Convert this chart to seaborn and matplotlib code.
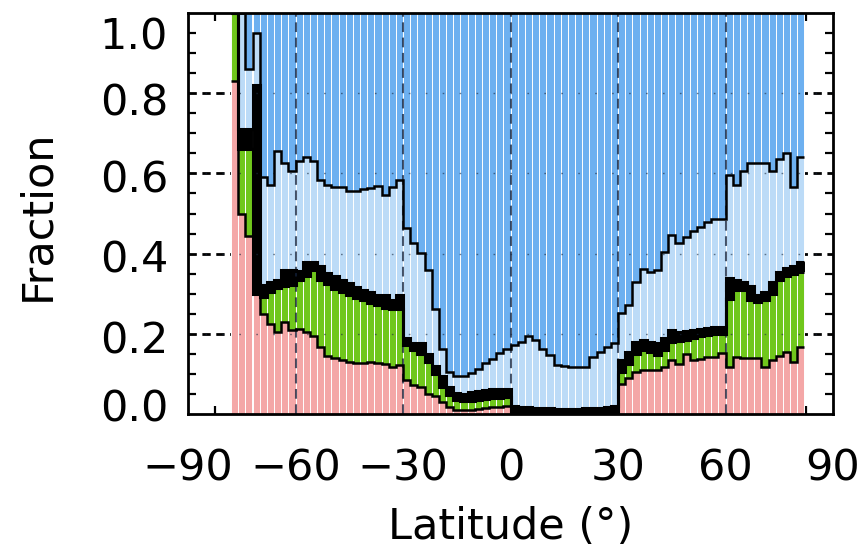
import numpy as np
import matplotlib
matplotlib.use("Agg")
import matplotlib.pyplot as plt
import matplotlib.transforms as mtransforms
import seaborn as sns

# ---------------- data (fractions) ----------------
latitude = [-77, -75, -73, -71, -69, -67, -65, -63, -61, -59,
            -57, -55, -53, -51, -49, -47, -45, -43, -41, -39,
            -37, -35, -33, -31, -29, -27, -25, -23, -21, -19,
            -17, -15, -13, -11, -9, -7, -5, -3, -1, 1,
            3, 5, 7, 9, 11, 13, 15, 17, 19, 21,
            23, 25, 27, 29, 31, 33, 35, 37, 39, 41,
            43, 45, 47, 49, 51, 53, 55, 57, 59, 61,
            63, 65, 67, 69, 71, 73, 75, 77, 79, 81]

# cumulative tops of each stacked class
pink_top = [0.83, 0.50, 0.445, 0.30, 0.25, 0.225, 0.205, 0.23, 0.21, 0.213,
            0.205, 0.195, 0.167, 0.145, 0.14, 0.135, 0.13, 0.126, 0.127, 0.13,
            0.127, 0.125, 0.117, 0.121, 0.084, 0.072, 0.068, 0.05, 0.045, 0.03,
            0.018, 0.011, 0.010, 0.010, 0.012, 0.015, 0.017, 0.018, 0.019, 0.0,
            0.0, 0.0, 0.0, 0.0, 0.0, 0.0, 0.0, 0.0, 0.0, 0.0,
            0.0, 0.0, 0.0, 0.0, 0.075, 0.09, 0.105, 0.11, 0.11, 0.11,
            0.118, 0.134, 0.125, 0.15, 0.135, 0.138, 0.142, 0.142, 0.151, 0.117,
            0.142, 0.14, 0.14, 0.14, 0.117, 0.134, 0.145, 0.155, 0.13, 0.167]

green_top = [1.0, 0.66, 0.66, 0.30, 0.292, 0.305, 0.313, 0.32, 0.321, 0.334,
             0.345, 0.359, 0.335, 0.325, 0.312, 0.305, 0.296, 0.29, 0.285, 0.278,
             0.272, 0.265, 0.262, 0.263, 0.172, 0.16, 0.15, 0.13, 0.10, 0.068,
             0.048, 0.035, 0.032, 0.033, 0.036, 0.038, 0.04, 0.041, 0.042, 0.0,
             0.0, 0.0, 0.0, 0.0, 0.0, 0.0, 0.0, 0.0, 0.0, 0.0,
             0.0, 0.0, 0.0, 0.0, 0.105, 0.125, 0.15, 0.16, 0.155, 0.146,
             0.16, 0.18, 0.183, 0.185, 0.19, 0.194, 0.197, 0.2, 0.2, 0.288,
             0.309, 0.309, 0.285, 0.28, 0.285, 0.30, 0.334, 0.345, 0.35, 0.355]

black_top = [1.0, 0.71, 0.71, 0.82, 0.322, 0.33, 0.335, 0.358, 0.36, 0.357,
             0.378, 0.38, 0.368, 0.352, 0.345, 0.335, 0.326, 0.317, 0.31, 0.305,
             0.298, 0.296, 0.285, 0.298, 0.19, 0.178, 0.176, 0.15, 0.12, 0.095,
             0.068, 0.052, 0.05, 0.055, 0.057, 0.06, 0.062, 0.063, 0.063, 0.02,
             0.018, 0.017, 0.016, 0.015, 0.014, 0.013, 0.012, 0.012, 0.013, 0.014,
             0.015, 0.016, 0.017, 0.019, 0.135, 0.155, 0.18, 0.185, 0.18, 0.177,
             0.19, 0.21, 0.205, 0.207, 0.21, 0.212, 0.215, 0.217, 0.218, 0.338,
             0.335, 0.33, 0.32, 0.298, 0.303, 0.33, 0.355, 0.363, 0.37, 0.378]

lightblue_top = [1.0, 1.0, 0.86, 0.95, 0.59, 0.57, 0.655, 0.625, 0.605, 0.63,
                 0.642, 0.63, 0.584, 0.571, 0.567, 0.567, 0.555, 0.557, 0.56, 0.563,
                 0.569, 0.546, 0.565, 0.584, 0.463, 0.426, 0.401, 0.359, 0.263, 0.163,
                 0.105, 0.094, 0.094, 0.102, 0.113, 0.126, 0.138, 0.151, 0.161, 0.172,
                 0.18, 0.194, 0.184, 0.163, 0.146, 0.121, 0.119, 0.118, 0.118, 0.117,
                 0.142, 0.155, 0.167, 0.176, 0.251, 0.271, 0.33, 0.361, 0.355, 0.359,
                 0.405, 0.447, 0.427, 0.442, 0.457, 0.467, 0.48, 0.486, 0.486, 0.596,
                 0.571, 0.607, 0.626, 0.626, 0.625, 0.605, 0.636, 0.652, 0.567, 0.642]

total_top = [1.0] * len(latitude)

xtick_values = [-90, -60, -30, 0, 30, 60, 90]
xtick_labels = ["\u221290", "\u221260", "\u221230", "0", "30", "60", "90"]
ytick_values = [0.0, 0.2, 0.4, 0.6, 0.8, 1.0]
ytick_labels = ["0.0", "0.2", "0.4", "0.6", "0.8", "1.0"]

# layout: where the y tick label texts sit (IDL nudges the end labels inward)
ytick_label_pos = [0.022, 0.193, 0.393, 0.593, 0.785, 0.951]

# ---------------- style ----------------
c_blue = "#6DB0F0"
c_lblue = "#BCDBF7"
c_black = "#000000"
c_green = "#70C71C"
c_pink = "#F4A7A7"

plt.rcParams["font.family"] = ["DejaVu Sans"]
plt.rcParams["lines.scale_dashes"] = False

fig = plt.figure(figsize=(8.64, 5.57), dpi=100)
ax = fig.add_axes([188 / 864, 1 - 414 / 557, 645 / 864, 401 / 557])

layers = [
    (total_top, c_blue, "white"),
    (lightblue_top, c_lblue, "white"),
    (black_top, c_black, c_black),
    (green_top, c_green, "white"),
    (pink_top, c_pink, "white"),
]
for vals, col, ec in layers:
    sns.barplot(x=latitude, y=vals, native_scale=True, width=1.0,
                color=col, saturation=1, edgecolor=ec, linewidth=0.7,
                errorbar=None, ax=ax, zorder=1)

# stepped boundary lines
lat_arr = np.asarray(latitude, dtype=float)
edges = np.concatenate([lat_arr - 1.0, [lat_arr[-1] + 1.0]])
ax.stairs(pink_top, edges, baseline=None, color="k", lw=1.8, zorder=4)
ax.stairs(green_top, edges, baseline=None, color="k", lw=2.2, zorder=4)
ax.stairs(black_top, edges, baseline=None, color="k", lw=2.2, zorder=4)
ax.stairs(lightblue_top, edges, baseline=None, color="k", lw=1.8, zorder=4)

# grid: horizontal dashed (behind), vertical dashed (over, faded)
ax.set_axisbelow(True)
for yv in ytick_values[1:-1]:
    ax.axhline(yv, color="k", lw=2.0, dashes=(6, 4), zorder=0.5)
    ax.axhline(yv, color="#1a2a40", lw=1.0, dashes=(1.2, 11), alpha=0.6, zorder=3)
for xv in xtick_values[1:-1]:
    ax.axvline(xv, color="#14213a", lw=1.5, dashes=(7, 4), alpha=0.75, zorder=3)

ax.set_xlim(-90, 90)
ax.set_ylim(0, 1.0)

ax.set_xticks(xtick_values)
ax.set_xticklabels(xtick_labels)
ax.set_yticks(ytick_values)
ax.set_yticklabels([])
ax.set_xticks(np.arange(-90, 90.1, 7.5), minor=True)
ax.set_yticks(np.arange(0, 1.001, 0.05), minor=True)

ax.tick_params(axis="both", which="major", length=0, labelsize=31)
ax.tick_params(axis="x", which="major", pad=24)
ax.tick_params(which="minor", direction="in", length=6, width=1.6,
               top=True, right=True, bottom=True, left=True)
ax.tick_params(which="major", top=True, right=True)

# y tick labels as explicit texts
ytrans = mtransforms.blended_transform_factory(ax.transAxes, ax.transData)
for lab, pos in zip(ytick_labels, ytick_label_pos):
    ax.text(-0.031, pos, lab, transform=ytrans, ha="right", va="center_baseline",
            fontsize=31, clip_on=False)

for sp in ax.spines.values():
    sp.set_linewidth(2.0)
    sp.set_color("k")
    sp.set_zorder(5)

ax.set_xlabel("Latitude (\u00b0)", fontsize=31, va="center")
ax.xaxis.set_label_coords(0.5, -0.282)
ax.set_ylabel("Fraction", fontsize=31, va="center")
ax.yaxis.set_label_coords(-0.233, 0.496)

fig.savefig("out.png", dpi=100)
